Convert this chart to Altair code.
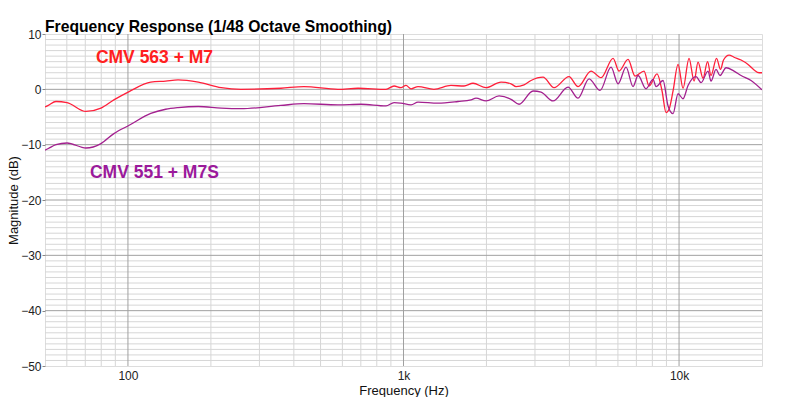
import altair as alt
import pandas as pd

# ---------------- data ----------------
red_freq = [50, 51.4, 54.8, 60.1, 70.4, 79.8, 88.9, 101, 121, 137, 152, 180, 218, 257, 359, 435,
            578, 684, 864, 924, 979, 1021, 1065, 1129, 1290, 1487, 1658, 1788, 1993, 2259, 2456,
            2561, 2738, 2903, 3209, 3518, 3987, 4299, 4793, 5212, 5761, 6057, 6530, 6923, 7464,
            7783, 8320, 8676, 8970, 9198, 9511, 9917, 10340, 10870, 11340, 11720, 12220, 12690,
            13060, 13680, 14140, 14500, 15190, 15830, 16790, 17800, 18720, 19520, 20000]
red_db = [-3.2, -2.9, -2.2, -2.4, -4.0, -3.4, -1.9, -0.4, 1.3, 1.5, 1.7, 1.3, 0.3, 0.0, 0.2, 0.5,
          0.0, 0.2, 0.0, 0.6, 0.3, 0.7, 0.1, 0.5, 0.0, 0.7, 0.6, 1.1, 0.3, 1.3, 1.0,
          0.5, 0.8, 1.6, 2.2, 0.3, 2.3, 0.5, 3.3, 2.1, 5.6, 3.3, 5.4, 2.4, 3.3,
          0.6, 2.8, -0.3, -4.2, -3.6, -0.3, 4.5, 0.2, 5.6, 1.5, 4.9, 2.0, 5.0,
          2.5, 5.6, 3.6, 5.3, 6.2, 5.8, 5.3, 4.5, 3.5, 3.0, 3.0]

purple_freq = [50, 51.4, 54.8, 60.1, 70.4, 79.8, 88.9, 101, 121, 137, 152, 180, 218, 257, 359, 435,
               578, 701, 864, 924, 979, 1065, 1129, 1334, 1577, 1758, 1833, 1993, 2222, 2456, 2626,
               2952, 3156, 3488, 3955, 4299, 4714, 5168, 5665, 6007, 6421, 6808, 7101, 7590, 8047,
               8251, 8749, 9122, 9511, 9917, 10340, 10780, 11530, 12020, 12740, 13060, 13620,
               14080, 14810, 15830, 16790, 18250, 20000]
purple_db = [-11.0, -10.7, -10.0, -9.7, -10.6, -9.8, -8.0, -6.5, -4.35, -3.6, -3.3, -3.1, -3.4, -3.5, -2.9, -2.6,
             -2.8, -2.7, -3.0, -2.4, -2.5, -2.8, -2.3, -2.5, -2.2, -1.9, -1.6, -2.1, -1.2, -1.8, -2.7,
             -0.3, -0.5, -2.1, 0.4, -1.6, 1.9, -0.2, 4.0, 1.0, 4.0, 0.5, 2.5, 0.1, 1.8,
             0.5, 1.6, -3.0, -4.4, -0.8, -1.7, 0.7, 2.3, 1.2, 3.3, 1.5, 3.6,
             2.5, 3.9, 3.3, 2.5, 1.6, -0.1]

series_names = ["CMV 563 + M7", "CMV 551 + M7S"]
series_colors = ["#ff1f3a", "#a3208f"]
label_colors = ["#ff2020", "#9b1a9b"]
label_freq = [76.5, 72.8]
label_db = [5.7, -15.1]

x_major = [100, 1000, 10000]
x_minor = [60, 70, 80, 90, 200, 300, 400, 500, 600, 700, 800, 900,
           2000, 3000, 4000, 5000, 6000, 7000, 8000, 9000]
y_major = [-40, -30, -20, -10, 0]
y_minor = [v for v in range(-49, 10) if v % 10 != 0]
y_ticks = [-50, -40, -30, -20, -10, 0, 10]

# ---------------- tables ----------------
df = pd.concat([
    pd.DataFrame({"freq": red_freq, "db": red_db, "series": series_names[0]}),
    pd.DataFrame({"freq": purple_freq, "db": purple_db, "series": series_names[1]}),
])
labels_df = pd.DataFrame({"freq": label_freq, "db": label_db, "series": series_names})

FONT = "Liberation Sans"
xscale = alt.Scale(type="log", domain=[50, 20000], nice=False)
yscale = alt.Scale(domain=[-50, 10], nice=False)

x_axis = alt.Axis(values=x_major, grid=False, domain=False, tickSize=0, labelPadding=4,
                  labelExpr="datum.value >= 1000 ? (datum.value / 1000) + 'k' : datum.label",
                  labelFont=FONT, labelFontSize=12, labelColor="#222",
                  titleFont=FONT, titleFontSize=13, titleFontWeight="normal",
                  titleColor="#111", titlePadding=3)
y_axis = alt.Axis(values=y_ticks, grid=False, domain=False, tickSize=3, tickColor="#888",
                  labelPadding=1, labelFont=FONT, labelFontSize=12, labelColor="#222",
                  titleFont=FONT, titleFontSize=13, titleFontWeight="normal",
                  titleColor="#111", titlePadding=0)

xgrid_minor = alt.Chart(pd.DataFrame({"v": x_minor})).mark_rule(
    color="#d6d6d6", strokeWidth=1).encode(
    x=alt.X("v:Q", scale=xscale, title="Frequency (Hz)", axis=x_axis))
ygrid_minor = alt.Chart(pd.DataFrame({"v": y_minor})).mark_rule(
    color="#d6d6d6", strokeWidth=1).encode(
    y=alt.Y("v:Q", scale=yscale, title="Magnitude (dB)", axis=y_axis))
xgrid_major = alt.Chart(pd.DataFrame({"v": x_major})).mark_rule(
    color="#a0a0a0", strokeWidth=1).encode(x=alt.X("v:Q", scale=xscale))
ygrid_major = alt.Chart(pd.DataFrame({"v": y_major})).mark_rule(
    color="#a0a0a0", strokeWidth=1).encode(y=alt.Y("v:Q", scale=yscale))

lines = alt.Chart(df).mark_line(strokeWidth=1.3, interpolate="monotone", clip=True).encode(
    x=alt.X("freq:Q", scale=xscale),
    y=alt.Y("db:Q", scale=yscale),
    color=alt.Color("series:N", scale=alt.Scale(domain=series_names, range=series_colors), legend=None),
)

texts = alt.Chart(labels_df).mark_text(
    align="left", baseline="middle", font=FONT, fontSize=17.5, fontWeight="bold").encode(
    x=alt.X("freq:Q", scale=xscale),
    y=alt.Y("db:Q", scale=yscale),
    text="series:N",
    color=alt.Color("series:N", scale=alt.Scale(domain=series_names, range=label_colors), legend=None),
)

chart = alt.layer(xgrid_minor, ygrid_minor, xgrid_major, ygrid_major, lines, texts).resolve_scale(
    color="independent"
).properties(
    width=717, height=332,
    autosize=alt.AutoSizeParams(type="none"),
    padding={"left": 37, "top": 26, "right": 24, "bottom": 31},
    title=alt.TitleParams("Frequency Response (1/48 Octave Smoothing)", anchor="start", frame="group",
                          font=FONT, fontSize=15.7, fontWeight="bold", color="#000",
                          offset=0, dy=8),
).configure_view(stroke="#999999", strokeWidth=1).configure(background="white")

chart.save("out.html", embed_options={"renderer": "svg", "actions": False})
